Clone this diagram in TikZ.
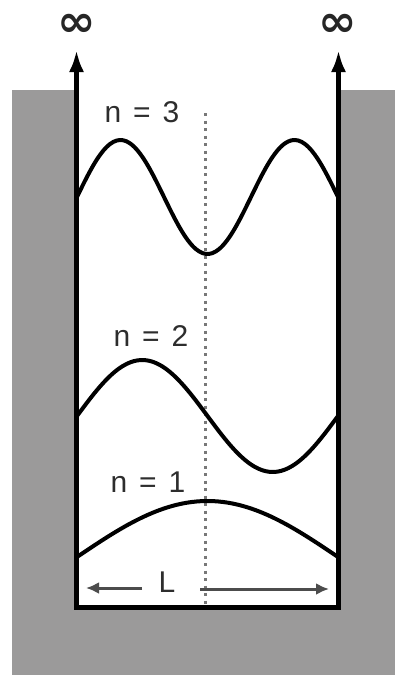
\documentclass[tikz,border=0pt]{standalone}
\usepackage{fontspec}
\setmainfont{Liberation Sans}
\newfontfamily\dejabold{DejaVu Sans}[BoldFont={* Bold}]
\usetikzlibrary{arrows.meta}
\definecolor{wallgray}{RGB}{155,154,154}
\definecolor{txt}{RGB}{45,45,45}
\definecolor{dotc}{RGB}{120,120,120}
\tikzset{
  lbl/.style={text=txt, font=\fontsize{30}{36}\selectfont, inner sep=0pt},
  inf/.style={text=black!85, font=\dejabold\bfseries\fontsize{44}{46}\selectfont, inner sep=0pt, xscale=1.05},
  wall/.style={line width=5pt, black},
  wallarrow/.style={wall, -{Latex[length=22pt,width=15pt]}},
  wave/.style={line width=4pt, black, line join=round, smooth},
  centerline/.style={dotc, line width=3pt, dash pattern=on 3pt off 4.5pt},
  larrow/.style={line width=3pt, color=black!70, -{Latex[length=13pt,width=12pt]}}
}
\begin{document}
\begin{tikzpicture}[x=1pt,y=-1pt]
\useasboundingbox (0,0) rectangle (395,675);
% gray surroundings
\fill[wallgray] (12,90) -- (77,90) -- (77,607) -- (338,607) -- (338,90) -- (395,90) -- (395,675) -- (12,675) -- cycle;
\fill[white] (77,90) rectangle (338,607);
% corners and arrow ends
\coordinate (bl) at (76.5,607);
\coordinate (br) at (338.5,607);
\node[inf] (infL) at (77,25) {∞};
\node[inf] (infR) at (338,25) {∞};
\coordinate (topL) at (76.5,50);
\coordinate (topR) at (338.5,50);
% centre dotted line
\coordinate (ctop) at (205,113);
\coordinate (cbot) at (205,607);
\draw[centerline] (ctop) -- (cbot);
% waves
\draw[wave, domain=0:1, samples=80] plot ({77+261*\x}, {197-57*sin(540*\x)});
\draw[wave, domain=0:1, samples=70] plot ({77+261*\x}, {416-56*sin(360*\x)});
\draw[wave, domain=0:1, samples=60] plot ({77+261*\x}, {557-56*sin(180*\x)});
% walls
\draw[wallarrow] (bl) -- (topL);
\draw[wallarrow] (br) -- (topR);
\draw[wall] ([xshift=-2.5pt]bl) -- ([xshift=2.5pt]br);
% labels
\node[lbl] (n3) at (142,112) {n\hspace{0.4em}=\hspace{0.4em}3};
\node[lbl] (n2) at (151,336) {n\hspace{0.4em}=\hspace{0.4em}2};
\node[lbl] (n1) at (148,482) {n\hspace{0.4em}=\hspace{0.4em}1};
\node[lbl] (L) at (167,582) {L};
\coordinate (la) at (142,588);
\coordinate (lt) at (86,588);
\coordinate (ra) at (200,589);
\coordinate (rt) at (329,589);
\draw[larrow] (la) -- (lt);
\draw[larrow] (ra) -- (rt);
\end{tikzpicture}
\end{document}
